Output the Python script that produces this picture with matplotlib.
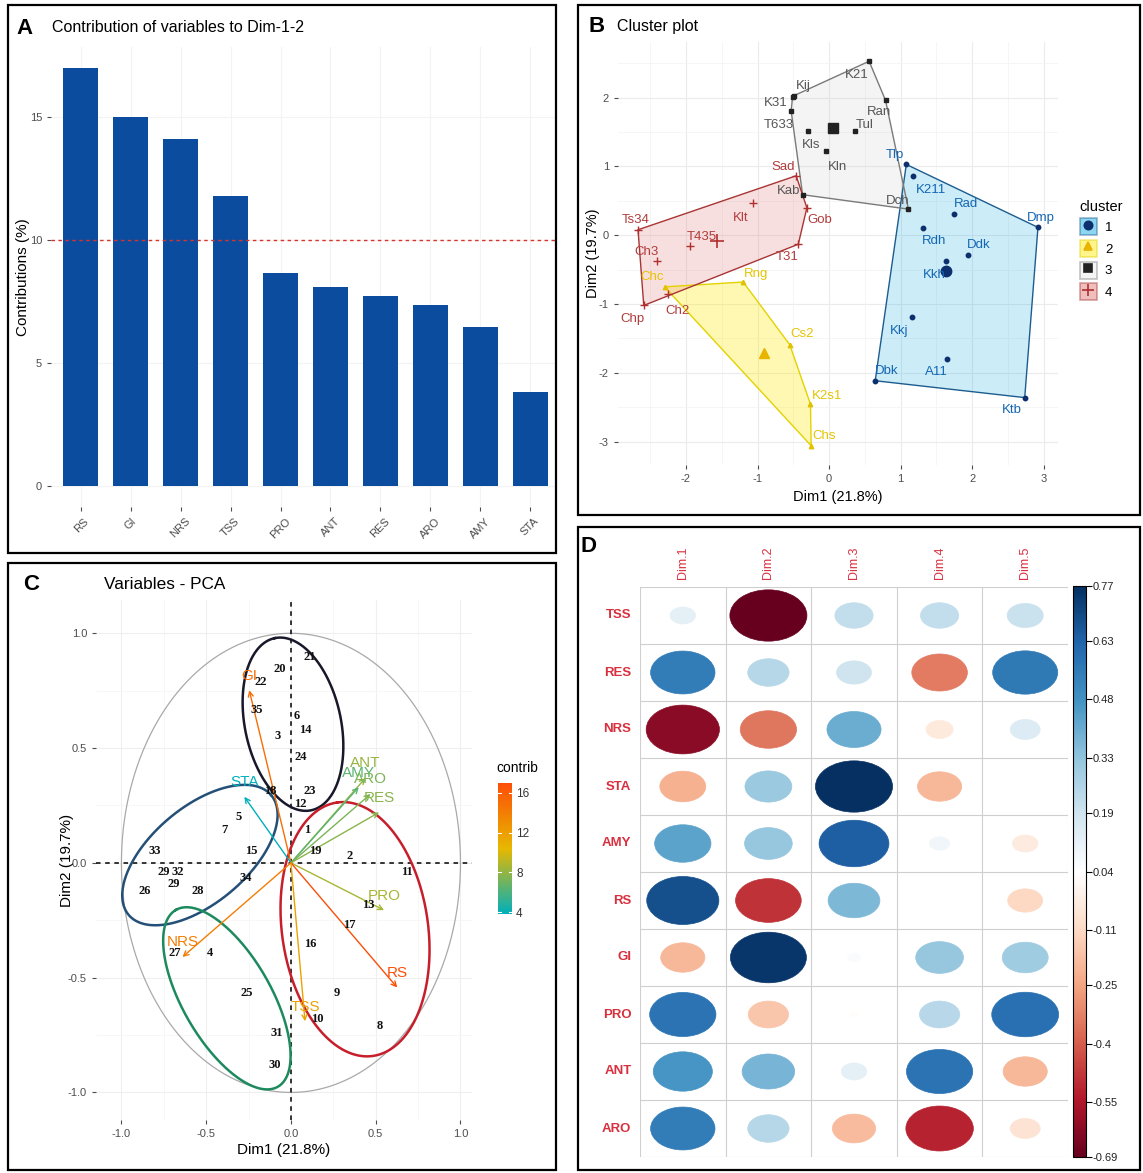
import numpy as np
import matplotlib
matplotlib.use('Agg')
import matplotlib.pyplot as plt
from matplotlib import font_manager
from matplotlib.patches import Rectangle, Ellipse, Polygon, Patch
from matplotlib.lines import Line2D
from matplotlib.colors import LinearSegmentedColormap, Normalize
import matplotlib.cm as cm


def pick_font(names):
    for n in names:
        try:
            font_manager.findfont(n, fallback_to_default=False)
            return n
        except Exception:
            pass
    return 'DejaVu Sans'


SANS = pick_font(['Liberation Sans', 'Arial'])
NARROW = pick_font(['Liberation Sans Narrow', 'Liberation Sans'])
SERIF = pick_font(['Liberation Serif', 'DejaVu Serif'])
plt.rcParams['font.family'] = [SANS, 'DejaVu Sans']
plt.rcParams['axes.unicode_minus'] = False

# ---------------- data ----------------
# A: contributions of variables to Dim-1-2
contrib_vars = ['RS', 'GI', 'NRS', 'TSS', 'PRO', 'ANT', 'RES', 'ARO', 'AMY', 'STA']
contrib_vals = [17.0, 15.0, 14.1, 11.8, 8.65, 8.1, 7.74, 7.37, 6.47, 3.82]

# B: cluster plot (individual coordinates on Dim1/Dim2)
b_names = ['Tlp', 'K211', 'Rad', 'Dmp', 'Rdh', 'Ddk', 'Kkh', 'Kkj', 'A11', 'Dbk', 'Ktb',
           'Chc', 'Rng', 'Cs2', 'K2s1', 'Chs',
           'K21', 'Kij', 'K31', 'T633', 'Kls', 'Kln', 'Tul', 'Ran', 'Dch', 'Kab',
           'Sad', 'Gob', 'Klt', 'T435', 'Ts34', 'Ch3', 'T31', 'Ch2', 'Chp']
b_x = [1.08, 1.17, 1.74, 2.92, 1.31, 1.94, 1.64, 1.16, 1.65, 0.645, 2.735,
       -2.30, -1.20, -0.55, -0.26, -0.25,
       0.56, -0.49, -0.51, -0.53, -0.29, -0.04, 0.36, 0.79, 1.11, -0.37,
       -0.46, -0.31, -1.06, -1.95, -2.67, -2.41, -0.43, -2.25, -2.59]
b_y = [1.03, 0.855, 0.31, 0.115, 0.10, -0.28, -0.38, -1.19, -1.80, -2.115, -2.36,
       -0.75, -0.68, -1.59, -2.455, -3.06,
       2.53, 2.03, 2.01, 1.81, 1.52, 1.22, 1.52, 1.96, 0.38, 0.59,
       0.865, 0.40, 0.47, -0.15, 0.08, -0.38, -0.13, -0.86, -1.02]
b_cluster = [1] * 11 + [2] * 5 + [3] * 10 + [4] * 9

# C: variables - PCA
var_names = ['GI', 'STA', 'ANT', 'AMY', 'ARO', 'RES', 'PRO', 'RS', 'TSS', 'NRS']
var_x = [-0.246, -0.275, 0.44, 0.40, 0.47, 0.52, 0.549, 0.627, 0.083, -0.64]
var_y = [0.752, 0.288, 0.37, 0.33, 0.30, 0.22, -0.206, -0.543, -0.69, -0.41]

ind_labels = ['1', '2', '3', '4', '5', '6', '7', '8', '9', '10', '11', '12', '13', '14',
              '15', '16', '17', '18', '19', '20', '21', '22', '23', '24', '25', '26',
              '27', '28', '29', '29', '30', '31', '32', '33', '34', '35']
ind_x = [0.093, 0.348, -0.08, -0.478, -0.307, 0.034, -0.393, 0.525, 0.27, 0.155, 0.686,
         0.053, 0.456, 0.083, -0.232, 0.116, 0.344, -0.12, 0.142, -0.065, 0.112, -0.177,
         0.112, 0.057, -0.258, -0.861, -0.684, -0.547, -0.753, -0.694, -0.094, -0.084,
         -0.665, -0.806, -0.267, -0.20]
ind_y = [0.142, 0.029, 0.552, -0.392, 0.20, 0.639, 0.142, -0.711, -0.565, -0.682, -0.039,
         0.256, -0.184, 0.578, 0.052, -0.354, -0.271, 0.314, 0.052, 0.844, 0.898, 0.786,
         0.314, 0.462, -0.566, -0.123, -0.392, -0.123, -0.039, -0.093, -0.881, -0.743,
         -0.039, 0.052, -0.068, 0.668]

# group ellipses: centre, semi-axes (x units), tilt (deg on screen)
ell_cx = [0.012, -0.537, -0.378, 0.378]
ell_cy = [0.604, 0.034, -0.59, -0.289]
ell_a = [0.519, 0.549, 0.602, 0.755]
ell_b = [0.283, 0.283, 0.260, 0.431]
ell_ang = [102, 40, 120, 98]

# D: variable coordinates on Dim.1 - Dim.5
d_rows = ['TSS', 'RES', 'NRS', 'STA', 'AMY', 'RS', 'GI', 'PRO', 'ANT', 'ARO']
d_cols = ['Dim.1', 'Dim.2', 'Dim.3', 'Dim.4', 'Dim.5']
d_vals = [
    [0.12, -0.69, 0.22, 0.22, 0.20],
    [0.55, 0.25, 0.19, -0.34, 0.56],
    [-0.62, -0.35, 0.40, -0.05, 0.15],
    [-0.22, 0.31, 0.77, -0.20, 0.04],
    [0.43, 0.32, 0.64, 0.09, -0.04],
    [0.68, -0.49, 0.37, 0.04, -0.11],
    [-0.20, 0.75, 0.06, 0.32, 0.30],
    [0.58, -0.16, 0.03, 0.24, 0.59],
    [0.47, 0.38, 0.12, 0.58, -0.20],
    [0.55, 0.25, -0.19, -0.52, -0.07],
]
d_lim = [-0.69, 0.77]
d_ticks = [0.77, 0.63, 0.48, 0.33, 0.19, 0.04, -0.11, -0.25, -0.4, -0.55, -0.69]

# ---------------- figure ----------------
W, H = 1143, 1173
fig = plt.figure(figsize=(W / 100, H / 100), dpi=100)


def px_axes(l, t, r, b):
    return fig.add_axes([l / W, 1 - b / H, (r - l) / W, (b - t) / H])


def px_text(x, y, s, **kw):
    fig.text(x / W, 1 - y / H, s, **kw)


def box(l, t, r, b):
    fig.add_artist(Rectangle((l / W, 1 - b / H), (r - l) / W, (b - t) / H,
                             transform=fig.transFigure, fill=False,
                             edgecolor='black', lw=1.6))


TICK = '#4d4d4d'


def gg_style(ax):
    for s in ax.spines.values():
        s.set_visible(False)
    ax.tick_params(length=3, color=TICK, labelsize=8, labelcolor=TICK, width=0.8)
    ax.set_axisbelow(True)


# ---------- A ----------
box(8, 5, 556, 553)
px_text(16, 28, 'A', fontsize=16, fontweight='bold', va='center')
px_text(52, 28, 'Contribution of variables to Dim-1-2', fontsize=11.5,
        family=[NARROW, 'DejaVu Sans'], va='center')
axA = px_axes(51, 47, 555, 507)
xa = np.arange(len(contrib_vars))
axA.bar(xa, contrib_vals, width=0.7, color='#0b4c9f', zorder=2)
axA.axhline(10, color='#d9342b', ls=(0, (2.5, 2.5)), lw=1, zorder=3)
axA.set_xlim(-0.6, 9.5)
axA.set_ylim(-0.85, 17.85)
axA.set_xticks(xa)
axA.set_xticklabels(contrib_vars, rotation=45, ha='center', va='top')
axA.set_yticks([0, 5, 10, 15])
axA.grid(color='#f3f3f3', lw=0.8)
gg_style(axA)
axA.set_ylabel('Contributions (%)', fontsize=11)
axA.yaxis.set_label_coords(-0.042, 0.5)

# ---------- B ----------
box(578, 5, 1140, 515)
px_text(589, 27, 'B', fontsize=16, fontweight='bold', va='center')
px_text(617, 27, 'Cluster plot', fontsize=11.5, family=[NARROW, 'DejaVu Sans'],
        va='center')
axB = px_axes(618, 42, 1058, 465)
axB.set_xlim(-2.95, 3.2)
axB.set_ylim(-3.34, 2.81)
axB.set_xticks([-2, -1, 0, 1, 2, 3])
axB.set_yticks([-3, -2, -1, 0, 1, 2])
axB.set_xticks(np.arange(-2.5, 3.5, 1.0), minor=True)
axB.set_yticks(np.arange(-2.5, 3.0, 1.0), minor=True)
axB.grid(which='major', color='#ebebeb', lw=0.8)
axB.grid(which='minor', color='#f4f4f4', lw=0.6)
gg_style(axB)
axB.tick_params(which='minor', length=0)
axB.set_xlabel('Dim1 (21.8%)', fontsize=10.5, labelpad=4)
axB.set_ylabel('Dim2 (19.7%)', fontsize=10.5)
axB.yaxis.set_label_coords(-0.041, 0.5)

cl_style = {
    1: dict(fill='#00a6e0', falpha=0.2, edge='#1d5c8e', pt='#0d2f6e', lab='#1466b3', m='o'),
    2: dict(fill='#ffea00', falpha=0.3, edge='#e3d200', pt='#e0c200', lab='#e6c400', m='^'),
    3: dict(fill='#c8c8c8', falpha=0.2, edge='#7a7a7a', pt='#222222', lab='#555555', m='s'),
    4: dict(fill='#e07070', falpha=0.22, edge='#a83434', pt='#b03030', lab='#b23c3c', m='+'),
}

lab_off = {
    'K21': (-9, -10), 'Kij': (7, 7), 'K31': (-12, -4), 'T633': (-9, -10), 'Kls': (2, -10),
    'Kln': (8, -11), 'Tul': (7, 4), 'Ran': (-5, -8), 'Tlp': (-8, 7), 'Sad': (-9, 6),
    'Kab': (-10, 3), 'Gob': (9, -9), 'Klt': (-9, -11), 'T435': (9, 6), 'Ts34': (-2, 7),
    'Ch3': (-7, 7), 'T31': (-8, -9), 'Ch2': (7, -12), 'Chp': (-8, -10), 'Chc': (-9, 7),
    'Rng': (9, 6), 'Cs2': (9, 8), 'K2s1': (12, 6), 'Chs': (9, 7), 'K211': (13, -10),
    'Dch': (-8, 6), 'Rad': (9, 7), 'Dmp': (2, 7), 'Rdh': (8, -9), 'Ddk': (8, 7),
    'Kkh': (-9, -10), 'Kkj': (-9, -10), 'A11': (-8, -9), 'Dbk': (8, 7), 'Ktb': (-9, -9),
}


def convex_hull(pts):
    pts = sorted(set(pts))

    def cross(o, a, b):
        return (a[0] - o[0]) * (b[1] - o[1]) - (a[1] - o[1]) * (b[0] - o[0])

    lower, upper = [], []
    for p in pts:
        while len(lower) >= 2 and cross(lower[-2], lower[-1], p) <= 0:
            lower.pop()
        lower.append(p)
    for p in reversed(pts):
        while len(upper) >= 2 and cross(upper[-2], upper[-1], p) <= 0:
            upper.pop()
        upper.append(p)
    return lower[:-1] + upper[:-1]


bx = np.array(b_x)
by = np.array(b_y)
bc = np.array(b_cluster)
for k in [1, 2, 3, 4]:
    st = cl_style[k]
    sel = bc == k
    hp = convex_hull(list(zip(bx[sel], by[sel])))
    axB.add_patch(Polygon(hp, closed=True, facecolor=st['fill'], alpha=st['falpha'],
                          edgecolor='none', zorder=2))
    axB.add_patch(Polygon(hp, closed=True, facecolor='none', edgecolor=st['edge'],
                          lw=1.0, zorder=3))
for k in [1, 2, 3, 4]:
    st = cl_style[k]
    sel = bc == k
    if st['m'] == '+':
        axB.plot(bx[sel], by[sel], ls='', marker='+', ms=6, mew=1.0, color=st['pt'], zorder=4)
        axB.plot(bx[sel].mean(), by[sel].mean(), ls='', marker='+', ms=10, mew=1.2,
                 color=st['pt'], zorder=4)
    else:
        axB.plot(bx[sel], by[sel], ls='', marker=st['m'], ms=3.2, color=st['pt'], zorder=4)
        axB.plot(bx[sel].mean(), by[sel].mean(), ls='', marker=st['m'], ms=7.5,
                 color=st['pt'] if k != 2 else '#e8b400', zorder=4)
for n, x, y, k in zip(b_names, b_x, b_y, b_cluster):
    axB.annotate(n, (x, y), xytext=lab_off[n], textcoords='offset points',
                 ha='center', va='center', fontsize=9.5, color=cl_style[k]['lab'],
                 zorder=5)

handles = []
for k in [1, 2, 3, 4]:
    st = cl_style[k]
    ph = Patch(facecolor=st['fill'] if k != 3 else '#e8e8e8', alpha=0.45,
               edgecolor=st['edge'], lw=1.2)
    mh = Line2D([], [], ls='', marker=st['m'], ms=6 if k != 4 else 8,
                mew=1.2, color=st['pt'] if k != 2 else '#e8b400')
    handles.append((ph, mh))
leg = axB.legend(handles, ['1', '2', '3', '4'], title='cluster', loc='upper left',
                 bbox_to_anchor=(1068 / W, 1 - 188 / H), bbox_transform=fig.transFigure,
                 frameon=False, fontsize=9.5, title_fontsize=10.5, handlelength=1.3,
                 handleheight=1.6, labelspacing=0.35, handletextpad=0.6,
                 alignment='left')

# ---------- C ----------
box(8, 563, 556, 1170)
px_text(23, 584, 'C', fontsize=16, fontweight='bold', va='center')
px_text(104, 584, 'Variables - PCA', fontsize=12.4, family=[NARROW, 'DejaVu Sans'],
        va='center')
axC = px_axes(96, 600, 472, 1120)
xlimC = (-1.15, 1.068)
ylimC = (-1.12, 1.145)
axC.set_xlim(*xlimC)
axC.set_ylim(*ylimC)
axC.set_xticks([-1.0, -0.5, 0.0, 0.5, 1.0])
axC.set_yticks([-1.0, -0.5, 0.0, 0.5, 1.0])
axC.xaxis.set_major_formatter(matplotlib.ticker.FormatStrFormatter('%.1f'))
axC.yaxis.set_major_formatter(matplotlib.ticker.FormatStrFormatter('%.1f'))
axC.set_xticks([-0.75, -0.25, 0.25, 0.75], minor=True)
axC.set_yticks([-0.75, -0.25, 0.25, 0.75], minor=True)
axC.grid(which='major', color='#efefef', lw=0.8)
axC.grid(which='minor', color='#f6f6f6', lw=0.6)
gg_style(axC)
axC.tick_params(which='minor', length=0)
axC.set_xlabel('Dim1 (21.8%)', fontsize=11, labelpad=3)
axC.set_ylabel('Dim2 (19.7%)', fontsize=11)
axC.yaxis.set_label_coords(-0.058, 0.5)

tt = np.linspace(0, 2 * np.pi, 400)
axC.plot(np.cos(tt), np.sin(tt), color='#a9a9a9', lw=0.9, zorder=2)
axC.axhline(0, color='black', ls=(0, (3, 3)), lw=1.1, zorder=2)
axC.axvline(0, color='black', ls=(0, (3, 3)), lw=1.1, zorder=2)

bbC = axC.get_position()
kx = bbC.width * W / (xlimC[1] - xlimC[0])
ky = bbC.height * H / (ylimC[1] - ylimC[0])
ell_col = ['#18182a', '#245078', '#1d8a5e', '#c61f2b']
for cx, cy, a, b, ang, col in zip(ell_cx, ell_cy, ell_a, ell_b, ell_ang, ell_col):
    phi = np.deg2rad(ang)
    dx = a * np.cos(tt) * np.cos(phi) - b * np.sin(tt) * np.sin(phi)
    dy = a * np.cos(tt) * np.sin(phi) + b * np.sin(tt) * np.cos(phi)
    axC.plot(cx + dx, cy + dy * kx / ky, color=col, lw=1.8, zorder=3)

for s, x, y in zip(ind_labels, ind_x, ind_y):
    axC.text(x, y, s, ha='center', va='center', fontsize=9, fontweight='bold',
             family=[SERIF, 'DejaVu Serif'], color='#111111', zorder=5)

cmapC = LinearSegmentedColormap.from_list('contrib', ['#00AFBB', '#E7B800', '#FC4E07'])
normC = Normalize(vmin=min(contrib_vals), vmax=max(contrib_vals))
contrib_of = dict(zip(contrib_vars, contrib_vals))
for n, x, y in zip(var_names, var_x, var_y):
    col = cmapC(normC(contrib_of[n]))
    axC.annotate('', xy=(x, y), xytext=(0, 0),
                 arrowprops=dict(arrowstyle='->', color=col, lw=1.0, mutation_scale=9,
                                 shrinkA=0, shrinkB=0), zorder=4)
    axC.annotate(n, (x, y), xytext=(0, 10.5), textcoords='offset points', ha='center',
                 va='center', fontsize=11, color=col, zorder=4)

caxC = px_axes(498, 783, 512, 914)
cbC = fig.colorbar(cm.ScalarMappable(norm=normC, cmap=cmapC), cax=caxC)
cbC.set_ticks([4, 8, 12, 16])
cbC.outline.set_visible(False)
caxC.tick_params(length=0, labelsize=8.5, labelcolor='#333333', pad=3)
for v in [4, 8, 12, 16]:
    caxC.plot([0, 0.2], [v, v], color='white', lw=0.8, transform=caxC.get_yaxis_transform())
    caxC.plot([0.8, 1.0], [v, v], color='white', lw=0.8, transform=caxC.get_yaxis_transform())
px_text(496, 768, 'contrib', fontsize=10, va='center')

# ---------- D ----------
box(578, 527, 1140, 1170)
px_text(580, 546, 'D', fontsize=16, fontweight='bold', va='center')
axD = px_axes(640, 587, 1068, 1157)
nr, nc = len(d_rows), len(d_cols)
axD.set_xlim(0, nc)
axD.set_ylim(nr, 0)
axD.axis('off')
cmapD = LinearSegmentedColormap.from_list(
    'rdbu', ['#67001F', '#B2182B', '#D6604D', '#F4A582', '#FDDBC7', '#FFFFFF',
             '#D1E5F0', '#92C5DE', '#4393C3', '#2166AC', '#053061'])
normD = Normalize(vmin=d_lim[0], vmax=d_lim[1])
mid = (d_lim[0] + d_lim[1]) / 2
half = (d_lim[1] - d_lim[0]) / 2
for i in range(nr + 1):
    axD.plot([0, nc], [i, i], color='#cfcfcf', lw=0.8, zorder=1)
for j in range(nc + 1):
    axD.plot([j, j], [0, nr], color='#cfcfcf', lw=0.8, zorder=1)
for i in range(nr):
    for j in range(nc):
        v = d_vals[i][j]
        d = 0.9 * np.sqrt(abs((v - mid) / half))
        c = cmapD(normD(v))
        axD.add_patch(Ellipse((j + 0.5, i + 0.5), d, d, facecolor=c, edgecolor=c,
                              lw=0.5, zorder=2))
RED = '#d8303f'
for i, n in enumerate(d_rows):
    axD.text(-0.1, i + 0.5, n, ha='right', va='center', fontsize=9.5,
             fontweight='bold', color=RED)
for j, n in enumerate(d_cols):
    axD.text(j + 0.5, -0.14, n, ha='center', va='bottom', rotation=90, fontsize=9,
             color=RED)

caxD = px_axes(1073, 586, 1086, 1157)
cbD = fig.colorbar(cm.ScalarMappable(norm=normD, cmap=cmapD), cax=caxD)
cbD.set_ticks(d_ticks)
cbD.set_ticklabels([('%g' % t) for t in d_ticks])
cbD.outline.set_linewidth(0.8)
caxD.tick_params(length=4, width=0.8, labelsize=8, labelcolor='#222222', pad=1)

fig.savefig('out.png', dpi=100)
